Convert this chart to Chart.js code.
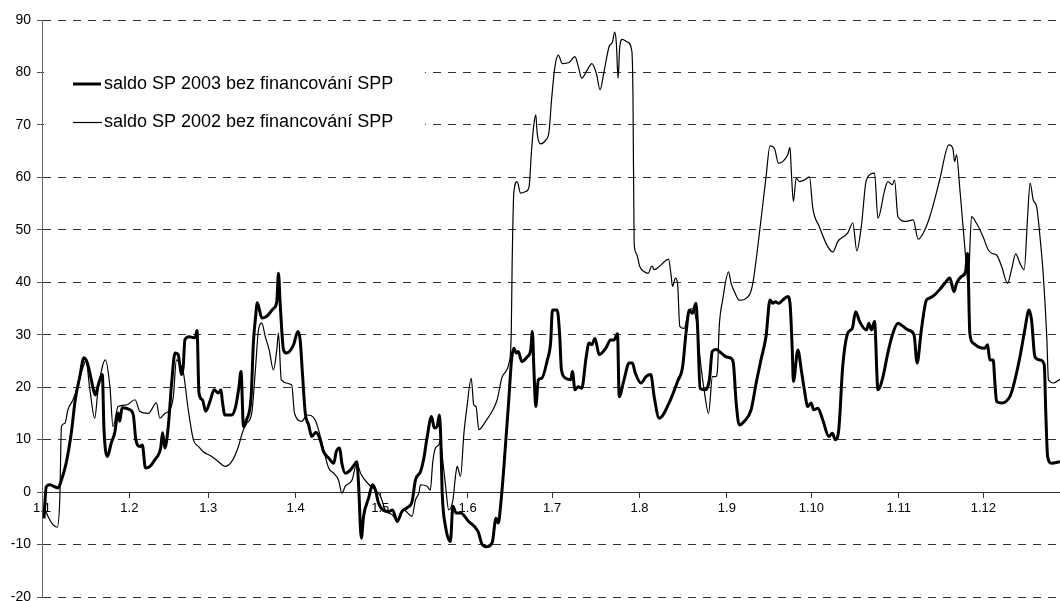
<!DOCTYPE html>
<html>
<head>
<meta charset="utf-8">
<script src="https://cdn.jsdelivr.net/npm/chart.js@4/dist/chart.umd.min.js"></script>
<style>
    html, body { margin: 0; padding: 0; background: #fff; overflow: hidden; }
    #wrap { position: relative; width: 1060px; height: 601px; }
</style>
</head>
<body>
<div id="wrap"><canvas id="saldoChart"></canvas></div>
<script>
// day of year (0 = 1.1.) and value
const days2003 = [0.7, 1.5, 2.7, 5.7, 6.9, 8.6, 10.4, 11.8, 13.4, 14.9, 16.1, 17.5, 18.9, 19.9, 21.4, 22.0, 23.2, 24.6, 25.8, 27.0,
    27.6, 28.4, 31.2, 32.4, 33.3, 34.7, 35.6, 36.7, 38.3, 40.1, 42.1, 42.8, 43.6, 44.8, 46.0, 47.2, 48.3, 49.0, 49.5, 50.1,
    50.7, 52.2, 54.3, 55.0, 55.7, 56.9, 58.1, 59.6, 61.1, 62.6, 63.5, 64.0, 64.9, 67.3, 68.7, 69.9, 70.6, 71.5, 72.6, 74.2,
    75.0, 75.8, 76.4, 78.0, 79.7, 82.1, 83.3, 83.9, 84.5, 85.7, 86.8, 89.2, 90.8, 91.6, 92.4, 93.4, 94.6, 95.7, 97.2, 98.7,
    99.9, 101.7, 103.5, 104.4, 105.6, 106.4, 107.6, 109.4, 111.2, 111.7, 112.3, 113.3, 114.1, 115.9, 117.3, 118.3, 119.4, 121.2, 123.0, 124.4,
    126.0, 127.7, 129.5, 131.3, 132.5, 134.3, 135.4, 136.6, 138.2, 139.2, 140.2, 141.0, 141.5, 142.0, 143.2, 144.9, 145.8, 146.9, 148.5, 151.4,
    154.7, 156.2, 157.9, 159.7, 161.1, 161.9, 162.7, 163.9, 165.7, 166.6, 167.4, 168.3, 169.0, 170.2, 172.2, 173.4, 174.0, 174.5, 175.2, 176.1,
    177.3, 179.3, 180.5, 181.1, 182.8, 183.7, 184.3, 185.8, 187.6, 188.2, 189.1, 190.3, 191.5, 193.1, 194.1, 195.1, 196.2, 197.7, 200.0, 201.8,
    203.0, 204.2, 204.8, 206.5, 208.3, 209.5, 210.5, 212.5, 214.3, 216.0, 217.2, 219.0, 222.5, 225.5, 227.3, 228.5, 229.7, 230.8, 232.0, 232.6,
    233.5, 235.0, 236.8, 237.8, 239.1, 242.7, 244.5, 245.3, 246.3, 247.4, 249.2, 251.6, 253.4, 255.1, 256.9, 258.3, 259.3, 260.2, 261.4, 262.8,
    264.6, 265.4, 266.2, 266.6, 268.2, 269.4, 270.5, 271.7, 272.9, 273.8, 275.3, 277.0, 279.2, 280.4, 281.5, 282.7, 284.1, 285.9, 287.5, 288.7,
    290.1, 292.5, 293.4, 294.3, 295.4, 296.6, 298.4, 300.1, 301.9, 303.7, 305.5, 307.3, 309.4, 310.5, 312.0, 313.8, 315.0, 316.7, 318.5, 320.3,
    322.1, 323.6, 324.5, 326.2, 327.7, 328.4, 329.2, 330.4, 332.2, 334.5, 335.5, 336.3, 337.5, 338.1, 338.7, 340.5, 343.4, 344.6, 347.0, 348.7,
    350.2, 351.1, 352.3, 354.1, 355.6, 356.2, 356.8, 358.2, 361.2];
const saldo2003 = [-5, 1.0, 1.4, 0.8, 2.3, 5.6, 11.3, 17.6, 22, 25.6, 24.6, 21.4, 18.5, 20.3, 22.4, 11.9, 6.8, 9.4, 11.3, 15.1,
    13.5, 16.1, 15.7, 14.7, 10, 8.7, 9, 4.6, 4.9, 6.2, 8.4, 11.3, 8.4, 12.5, 20.8, 26.5, 26.2, 23.9, 22.4, 23.9,
    29, 29.6, 29.4, 30.8, 18.9, 17.6, 15.4, 17.3, 19.5, 18.9, 19.5, 17.3, 14.7, 14.7, 16.3, 20.1, 23, 12.5, 13.8, 18.2,
    28.4, 33.5, 36.1, 33.2, 33.5, 35, 36.3, 41.7, 36, 27.1, 26.5, 28, 30.6, 29, 22.7, 15.1, 12.8, 10.6, 11.4, 10,
    7.7, 6.5, 5.5, 7.7, 8.4, 5.5, 3.6, 4.2, 5.5, 5.8, 1.7, -8.8, -4.6, -1.1, 1.4, 0.4, -2.1, -3.5, -3.7, -3.4,
    -5.6, -3.7, -3.0, -1.8, 2.3, 3.9, 6.2, 10.3, 14.4, 12.2, 12.5, 14.7, 10, -0.2, -6.6, -9.4, -2.7, -4, -4, -5.6,
    -7.5, -10, -10.4, -9.7, -5, -5.9, -2.7, 4.9, 18.2, 25.2, 27.4, 26.5, 26.8, 24.9, 25.8, 27.1, 30.6, 23.9, 16.3, 21.4,
    21.7, 25.2, 28.7, 34.7, 34.7, 29.7, 23.3, 21.7, 21.4, 23, 19.5, 20.1, 19.8, 25.8, 28.4, 28.1, 29.3, 26.2, 27.4, 29,
    29, 30.2, 18.2, 21.4, 24.6, 24.6, 22.7, 20.8, 22, 22.4, 18.2, 14.1, 17, 21.1, 23.9, 30.3, 34.7, 34.1, 36, 31.6,
    19.8, 19.5, 21.4, 26.8, 27.2, 25.8, 25.5, 24.6, 17, 12.8, 13.5, 15.7, 20.8, 25.2, 29.7, 36.6, 36, 36.3, 36, 36.6,
    37.3, 36, 27.1, 21.1, 27.1, 23.3, 19.5, 16.3, 17, 15.7, 16, 13.8, 10.6, 11.2, 10, 11.9, 23.9, 30.3, 31.2, 34.4,
    32.5, 30.9, 32.2, 30.9, 32.5, 19.5, 22, 26.5, 30.3, 32.2, 31.6, 30.9, 30, 24.6, 30.9, 36.6, 37, 37.6, 38.6, 39.8,
    40.8, 38.2, 39.8, 41.1, 42, 45.5, 30.3, 28.4, 27.7, 27.4, 28.1, 25.2, 25.2, 20.8, 17.3, 17, 18.2, 20.1, 25.8, 30.9,
    34.7, 32.8, 25.8, 25.2, 24.3, 14.4, 6.8, 5.5, 5.8];

const days2002 = [0.7, 2.1, 3.9, 5.4, 6.3, 6.9, 8.1, 9.2, 11.0, 12.8, 14.6, 15.6, 17.0, 18.7, 19.9, 22.5, 24.1, 25.2, 27.0, 30.0,
    33.0, 34.7, 37.7, 40.6, 41.8, 43.6, 45.4, 46.6, 47.7, 49.0, 50.1, 51.9, 53.7, 55.5, 57.2, 60.2, 62.6, 64.9, 67.3, 69.7,
    71.2, 72.6, 74.4, 75.8, 76.8, 78.0, 79.2, 80.6, 82.1, 83.3, 83.9, 84.9, 88.6, 89.6, 92.2, 94.0, 96.9, 98.1, 99.9, 101.7,
    103.5, 105.2, 106.4, 107.6, 110.0, 111.7, 113.1, 115.9, 118.3, 120.1, 121.8, 124.2, 126.0, 128.3, 131.3, 132.5, 133.7, 134.3, 136.6, 137.8,
    138.6, 139.6, 140.8, 141.4, 142.2, 143.2, 144.3, 145.8, 146.7, 147.3, 148.5, 149.7, 150.8, 152.3, 153.2, 154.0, 155.0, 157.4, 159.7, 161.5,
    163.3, 165.7, 166.5, 166.8, 167.4, 168.6, 169.8, 171.6, 172.8, 173.7, 174.5, 175.2, 175.7, 176.9, 178.7, 179.9, 180.8, 182.0, 183.2, 184.6,
    187.0, 189.1, 190.3, 191.5, 193.5, 195.1, 196.7, 198.0, 199.4, 201.2, 202.4, 203.2, 203.8, 204.4, 205.0, 205.9, 207.7, 209.3, 209.7, 210.1,
    210.9, 212.1, 213.7, 215.1, 216.4, 217.2, 219.0, 220.8, 222.3, 223.2, 223.7, 224.7, 225.5, 226.3, 227.9, 229.0, 230.4, 232.1, 233.6, 235.0,
    236.5, 237.9, 239.1, 239.7, 240.3, 241.5, 243.6, 244.5, 245.7, 247.4, 251.0, 252.2, 253.4, 255.1, 256.9, 258.3, 259.9, 261.3, 262.8, 264.6,
    265.4, 265.9, 266.6, 267.6, 268.8, 270.5, 272.3, 273.5, 275.8, 278.8, 280.6, 282.4, 285.9, 287.7, 289.1, 290.7, 292.5, 295.4, 296.6, 299.0,
    300.1, 301.7, 302.5, 303.7, 306.7, 309.1, 310.9, 312.7, 315.0, 316.7, 318.5, 321.8, 323.2, 323.8, 324.5, 325.6, 326.8, 328.0, 328.6, 329.8,
    331.5, 333.9, 335.7, 337.1, 338.7, 340.5, 342.6, 344.0, 345.5, 347.0, 348.5, 349.7, 350.6, 351.7, 352.9, 354.1, 355.3, 356.5, 357.1, 358.9,
    361.2];
const saldo2002 = [-2.7, -4.6, -6.2, -6.7, -1.5, 12.5, 13.1, 15.7, 17.6, 20.4, 23.9, 25, 19.5, 14.1, 19.5, 25.2, 20.1, 12.5, 16.3, 16.6,
    17.6, 15.4, 15, 17, 14.1, 15, 15.7, 18.2, 25.2, 24.3, 23, 15.7, 10, 8.7, 7.7, 6.8, 5.8, 4.9, 5.8, 8.7,
    11.5, 13.1, 15, 23.9, 30.9, 32.2, 29.7, 27.1, 23.3, 27.1, 30.3, 21.4, 20.4, 15, 13.5, 14.7, 13.8, 11.9, 8.1, 4.6,
    3.6, 2.3, -0.2, 1.1, 2.3, 5.5, 3.5, 1.5, 0.4, -0.8, -3.4, -4.3, -5.3, -3.4, -4.6, -1.5, -0.2, 1.4, 1.1, 0.4,
    5.5, 8.4, 9, 10, 6, 1.1, -3.4, -1.5, 3, 4.9, 3, 11.2, 16.3, 21.7, 16.6, 16.3, 11.9, 13.5, 15.4, 17.6,
    22, 24.6, 30.3, 43, 57, 59.2, 57, 57.3, 58.2, 65.2, 70, 71.9, 68.4, 66.4, 67.1, 68.7, 74.8, 81.1, 83.3, 81.7,
    81.9, 83, 81.1, 78.9, 80.5, 81.7, 79.8, 76.7, 80.1, 84.9, 85.8, 87.7, 85.5, 78.9, 84.9, 86.3, 85.8, 84, 74.8, 47.4,
    45.5, 43, 42, 41.7, 43.1, 42.4, 43, 43.9, 44.4, 41.4, 39.2, 40.8, 39.8, 31.6, 31.2, 33.5, 35, 33, 25, 19.2,
    15, 22, 22, 23.6, 31.6, 36.6, 42, 39.8, 38.2, 36.6, 37.6, 39.8, 44.3, 51.9, 60.1, 66, 65.5, 62.7, 63, 64.3,
    65.7, 60.8, 55.4, 59.8, 59.2, 59.5, 60.1, 54.1, 50.6, 46.8, 45.8, 47.8, 49.4, 51.3, 46, 50.6, 59.5, 60.8, 52.2, 57.6,
    59.2, 58.6, 59.5, 52.5, 51.6, 51.9, 48.2, 49.4, 52.5, 55.7, 59.5, 66.2, 65.5, 63, 64.3, 58.2, 50.6, 43, 39.5, 52.5,
    51.3, 48.7, 46.2, 45.5, 45.2, 43, 39.8, 42.4, 45.4, 43.6, 42.4, 52.5, 58.9, 55.7, 54.4, 48.7, 41.1, 29.7, 21.4, 20.8,
    21.5];

// first day of each month, 2003
const monthStarts = [0, 31, 59, 90, 120, 151, 181, 212, 243, 273, 304, 334];
const monthLabels = ['1.1', '1.2', '1.3', '1.4', '1.5', '1.6', '1.7', '1.8', '1.9', '1.10', '1.11', '1.12'];

const seriesNames = ['saldo SP 2003 bez financování SPP', 'saldo SP 2002 bez financování SPP'];

const toPoints = (xs, ys) => xs.map((d, i) => ({ x: d, y: ys[i] }));

// legend sits inside the plot, over the grid
const insideLegend = {
    id: 'insideLegend',
    afterDraw(chart) {
        const ctx = chart.ctx;
        ctx.save();
        ctx.fillStyle = '#fff';
        ctx.fillRect(44, 58, 381, 80);
        ctx.strokeStyle = '#000';
        ctx.lineCap = 'butt';
        ctx.lineWidth = 3;
        ctx.beginPath(); ctx.moveTo(73, 84); ctx.lineTo(101, 84); ctx.stroke();
        ctx.lineWidth = 1.2;
        ctx.beginPath(); ctx.moveTo(73, 122.5); ctx.lineTo(102, 122.5); ctx.stroke();
        ctx.fillStyle = '#000';
        ctx.font = '18px "Liberation Sans", Arial, sans-serif';
        ctx.textBaseline = 'middle';
        ctx.fillText(seriesNames[0], 104, 84);
        ctx.fillText(seriesNames[1], 104, 122);
        ctx.restore();
    }
};

const ctx = document.getElementById('saldoChart').getContext('2d');
new Chart(ctx, {
    type: 'line',
    data: {
        datasets: [
            {
                label: seriesNames[0],
                data: toPoints(days2003, saldo2003),
                borderColor: '#000',
                borderWidth: 3,
                pointRadius: 0,
                cubicInterpolationMode: 'monotone',
                fill: false
            },
            {
                label: seriesNames[1],
                data: toPoints(days2002, saldo2002),
                borderColor: '#000',
                borderWidth: 1.2,
                pointRadius: 0,
                cubicInterpolationMode: 'monotone',
                fill: false
            }
        ]
    },
    options: {
        responsive: true,
        maintainAspectRatio: false,
        animation: false,
        events: [],
        layout: { padding: { top: 20, bottom: 4, left: 0, right: 0 } },
        plugins: {
            legend: { display: false },
            tooltip: { enabled: false }
        },
        scales: {
            x: {
                type: 'linear',
                position: { y: 0 },
                min: 0,
                max: 361.2,
                afterBuildTicks: (scale) => {
                    scale.ticks = monthStarts.map(v => ({ value: v }));
                },
                ticks: {
                    autoSkip: false,
                    maxRotation: 0,
                    padding: 4,
                    color: '#000',
                    font: { family: '"Liberation Sans", Arial, sans-serif', size: 13 },
                    callback: (value) => monthLabels[monthStarts.indexOf(value)]
                },
                grid: { display: true, drawOnChartArea: false, tickLength: 5, tickColor: '#333' },
                border: { display: true, color: '#333', width: 1 }
            },
            y: {
                min: -20,
                max: 90,
                afterFit: (scale) => {
                    scale.width = 42;
                    scale.paddingTop = 0;
                    scale.paddingBottom = 0;
                },
                ticks: {
                    stepSize: 10,
                    padding: 6,
                    color: '#000',
                    font: { family: '"Liberation Sans", Arial, sans-serif', size: 14 }
                },
                grid: {
                    color: (c) => c.tick && c.tick.value === 0 ? 'rgba(0,0,0,0)' : '#333',
                    lineWidth: 1,
                    tickLength: 5,
                    tickColor: '#555'
                },
                border: { display: true, color: '#666', width: 1, dash: [8, 7] }
            }
        }
    },
    plugins: [insideLegend]
});
</script>
</body>
</html>
